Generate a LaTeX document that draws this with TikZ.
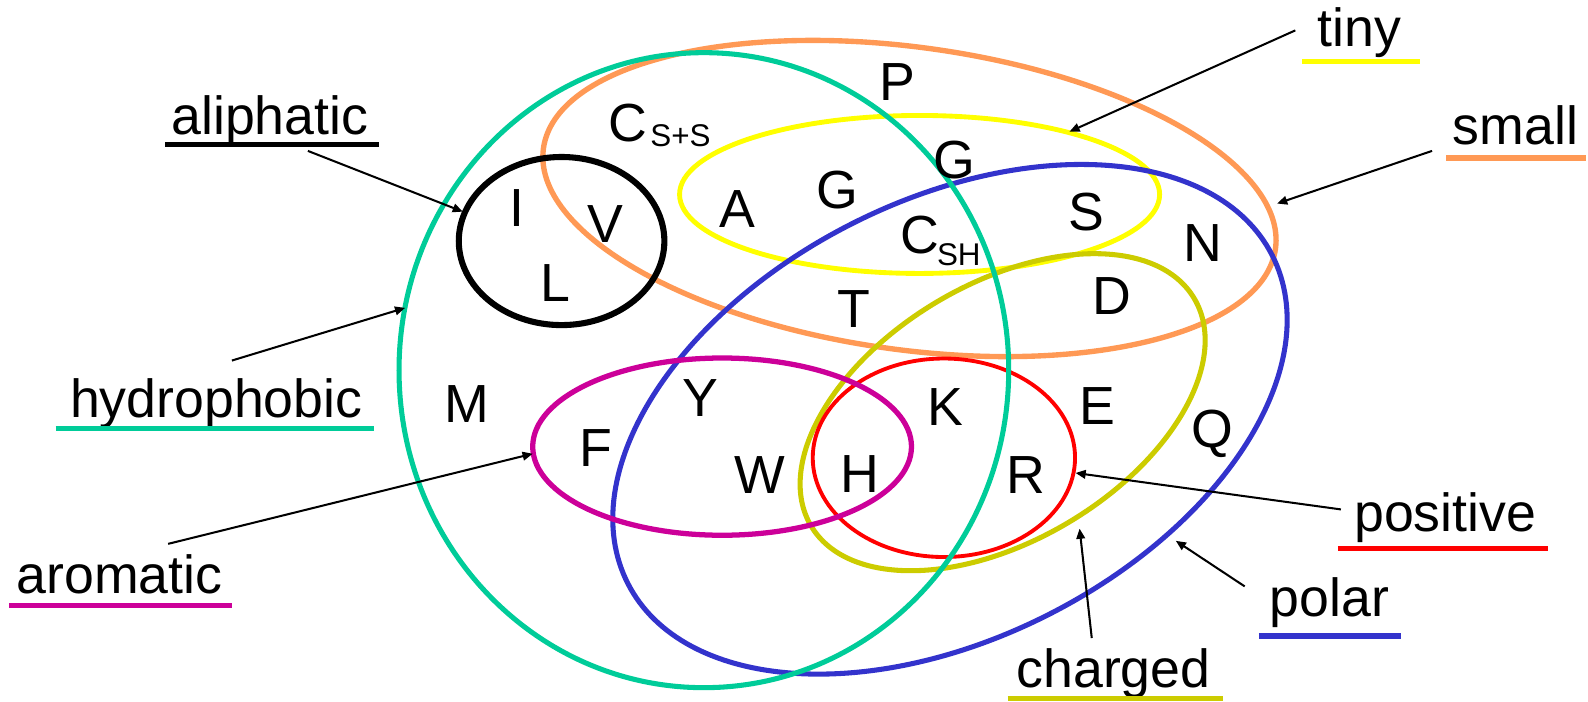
\documentclass[tikz,border=0pt]{standalone}
\usepackage{fontspec}
\setmainfont{Liberation Sans}
\usetikzlibrary{arrows.meta}
\definecolor{cTeal}{RGB}{0,204,153}
\definecolor{cOrange}{RGB}{255,153,85}
\definecolor{cYellow}{RGB}{255,255,0}
\definecolor{cBlue}{RGB}{51,51,204}
\definecolor{cOlive}{RGB}{204,204,0}
\definecolor{cRed}{RGB}{255,0,0}
\definecolor{cMagenta}{RGB}{204,0,153}
\begin{document}
\begin{tikzpicture}[x=1pt,y=-1pt,
  lbl/.style={font=\fontsize{53}{60}\selectfont, inner sep=0pt, anchor=base},
  subtxt/.style={font=\fontsize{31}{36}\selectfont, inner sep=0pt, anchor=base west},
  arr/.style={line width=2pt, -{Triangle[length=10pt,width=8.5pt]}},
  ul/.style={line width=5pt},
  set/.style={line width=5pt}]
\useasboundingbox (0,0) rectangle (1568,693);

% set ellipses
\draw[set, cOrange, line width=5.3pt, rotate around={-7.8:(898,196)}] (898,196) ellipse [x radius=364.8pt, y radius=149.4pt];
\draw[set, cYellow, line width=4.8pt] (908,192) ellipse [x radius=237pt, y radius=78pt];
\draw[set, cBlue, rotate around={27:(938,414)}] (938,414) ellipse [x radius=357pt, y radius=216pt];
\draw[set, cOlive, rotate around={30.7:(990,407)}] (990,407) ellipse [x radius=220pt, y radius=126.8pt];
\draw[set, cRed, line width=3.8pt] (932,452) ellipse [x radius=129.5pt, y radius=98pt];
\draw[set, cMagenta, line width=5.2pt] (713,441) ellipse [x radius=187pt, y radius=87.5pt];
\draw[set, cTeal] (695,365.5) ellipse [x radius=301pt, y radius=313.5pt];
\draw[set, black, line width=6pt] (554.5,238) ellipse [x radius=101.5pt, y radius=83pt];

% amino acid letters
\node[lbl] (P) at (886,99) {P};
\node[lbl] (Css) at (619.5,140) {C};
\node[subtxt] (Csssub) at (642,145) {S+S};
\node[lbl] (A) at (728,225) {A};
\node[lbl] (G1) at (827,206) {G};
\node[lbl] (G2) at (942,176) {G};
\node[lbl] (Csh) at (908.5,250) {C};
\node[subtxt] (Cshsub) at (925,262) {SH};
\node[lbl] (S) at (1073,228) {S};
\node[lbl] (N) at (1188,258) {N};
\node[lbl] (D) at (1098,311) {D};
\node[lbl] (T) at (843,323) {T};
\node[lbl] (I) at (510,224) {I};
\node[lbl] (V) at (598,239) {V};
\node[lbl] (L) at (548,298) {L};
\node[lbl] (M) at (461,417) {M};
\node[lbl] (Y) at (692,411) {Y};
\node[lbl] (F) at (588,461) {F};
\node[lbl] (W) at (750,487) {W};
\node[lbl] (H) at (849,486) {H};
\node[lbl] (K) at (933,420) {K};
\node[lbl] (R) at (1013,487) {R};
\node[lbl] (E) at (1084,419) {E};
\node[lbl] (Q) at (1197,442) {Q};

% category labels
\node[lbl] (aliphatic) at (266.5,133) {aliphatic};
\node[lbl] (hydrophobic) at (213.5,412) {hydrophobic};
\node[lbl] (aromatic) at (118,586.5) {aromatic};
\node[lbl] (tiny) at (1342,46) {tiny};
\node[lbl] (small) at (1496.5,143) {small};
\node[lbl] (positive) at (1427,525) {positive};
\node[lbl] (polar) at (1312.5,609) {polar};
\node[lbl] (charged) at (1099.5,679) {charged};

% underlines
\draw[ul, black] (163,143) -- (374,143);
\draw[ul, cTeal] (55,423) -- (369,423);
\draw[ul, cMagenta] (9,598) -- (229,598);
\draw[ul, cYellow] (1286,61) -- (1402,61);
\draw[ul, cOrange] (1428,156) -- (1566,156);
\draw[ul, cRed] (1321,542) -- (1528,542);
\draw[ul, cBlue] (1243,628) -- (1383,628);
\draw[ul, cOlive] (995,690) -- (1208,690);

% arrow coordinates
\coordinate (aliS) at (304,149);  \coordinate (aliE) at (457,209);
\coordinate (hydS) at (229,356);  \coordinate (hydE) at (400,304);
\coordinate (aroS) at (166,537);  \coordinate (aroE) at (526,448);
\coordinate (tinS) at (1279,30);  \coordinate (tinE) at (1056,130);
\coordinate (smaS) at (1414,149); \coordinate (smaE) at (1261,201);
\coordinate (posS) at (1324,503); \coordinate (posE) at (1062,467);
\coordinate (polS) at (1229,579); \coordinate (polE) at (1161,534);
\coordinate (chaS) at (1078,630); \coordinate (chaE) at (1066,522);

\draw[arr] (aliS) -- (aliE);
\draw[arr] (hydS) -- (hydE);
\draw[arr] (aroS) -- (aroE);
\draw[arr] (tinS) -- (tinE);
\draw[arr] (smaS) -- (smaE);
\draw[arr] (posS) -- (posE);
\draw[arr] (polS) -- (polE);
\draw[arr] (chaS) -- (chaE);
\end{tikzpicture}
\end{document}
